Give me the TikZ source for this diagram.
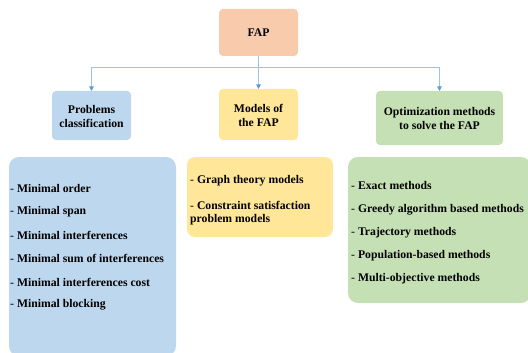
\documentclass[tikz,border=0pt]{standalone}
\usepackage{fontspec}
\setmainfont{Liberation Serif}
\usetikzlibrary{arrows.meta}
\definecolor{cOr}{HTML}{F8CBAD}
\definecolor{cBl}{HTML}{BDD7EE}
\definecolor{cYe}{HTML}{FFE699}
\definecolor{cGr}{HTML}{C5E0B4}
\definecolor{cLine}{HTML}{9DC3E6}
\definecolor{cTip}{HTML}{5B9BD5}
\tikzset{
  hbox/.style={rounded corners=4pt, inner sep=0pt, font=\fontsize{11.7}{14}\selectfont\bfseries, align=center},
  item/.style={anchor=west, inner sep=0pt, font=\fontsize{11.7}{14}\selectfont, align=left},
  conn/.style={draw=cLine, line width=0.9pt, -{Triangle[length=4.5pt,width=4.5pt,fill=cTip,color=cTip]}}
}
\newcommand{\itm}[1]{-~\textbf{#1}}
\begin{document}
\begin{tikzpicture}[x=1pt,y=-1pt]
\useasboundingbox (0,0) rectangle (528,353);
% header boxes
\fill[cOr, rounded corners=4pt] (219,9) rectangle (298,56);
\node[hbox] (fap) at (258.5,32.5) {FAP};
\coordinate (fapS) at (258.5,56);
\fill[cBl, rounded corners=4pt] (52,91) rectangle (131,140);
\node[hbox] (prob) at (91.5,116) {Problems\\classification};
\coordinate (probN) at (91.5,91);
\fill[cYe, rounded corners=4pt] (219,89) rectangle (298,140);
\node[hbox] (mod) at (258.5,115) {Models of\\the FAP};
\coordinate (modN) at (258.5,89);
\fill[cGr, rounded corners=4pt] (376,91) rectangle (503,145);
\node[hbox] (opt) at (439.5,118.5) {Optimization methods\\to solve the FAP};
\coordinate (optN) at (439.5,91);
% connectors
\coordinate (jn) at (258.5,67);
\draw[conn] (fapS) -- (modN);
\draw[conn] (jn) -| (probN);
\draw[conn] (jn) -| (optN);
% list boxes
\fill[cBl, rounded corners=10pt] (9,157) rectangle (176,356);
\fill[cYe, rounded corners=8pt] (187,157) rectangle (333,237);
\fill[cGr, rounded corners=10pt] (348,157) rectangle (531,303);
% problems list
\node[item] (p1) at (10,188.5) {\itm{Minimal order}};
\node[item] (p2) at (10,211.5) {\itm{Minimal span}};
\node[item] (p3) at (10,235) {\itm{Minimal interferences}};
\node[item] (p4) at (10,258.5) {\itm{Minimal sum of interferences}};
\node[item] (p5) at (10,282) {\itm{Minimal interferences cost}};
\node[item] (p6) at (10,304.5) {\itm{Minimal blocking}};
% models list
\node[item] (m1) at (190,181) {\itm{Graph theory models}};
\node[item] (m2) at (190,205) {\itm{Constraint satisfaction}};
\node[item] (m3) at (190,220) {\textbf{problem models}};
% optimization list
\node[item] (o1) at (351,185.5) {\itm{Exact methods}};
\node[item] (o2) at (351,209.5) {\itm{Greedy algorithm based methods}};
\node[item] (o3) at (351,232.5) {\itm{Trajectory methods}};
\node[item] (o4) at (351,255.5) {\itm{Population-based methods}};
\node[item] (o5) at (351,278.5) {\itm{Multi-objective methods}};
\end{tikzpicture}
\end{document}
